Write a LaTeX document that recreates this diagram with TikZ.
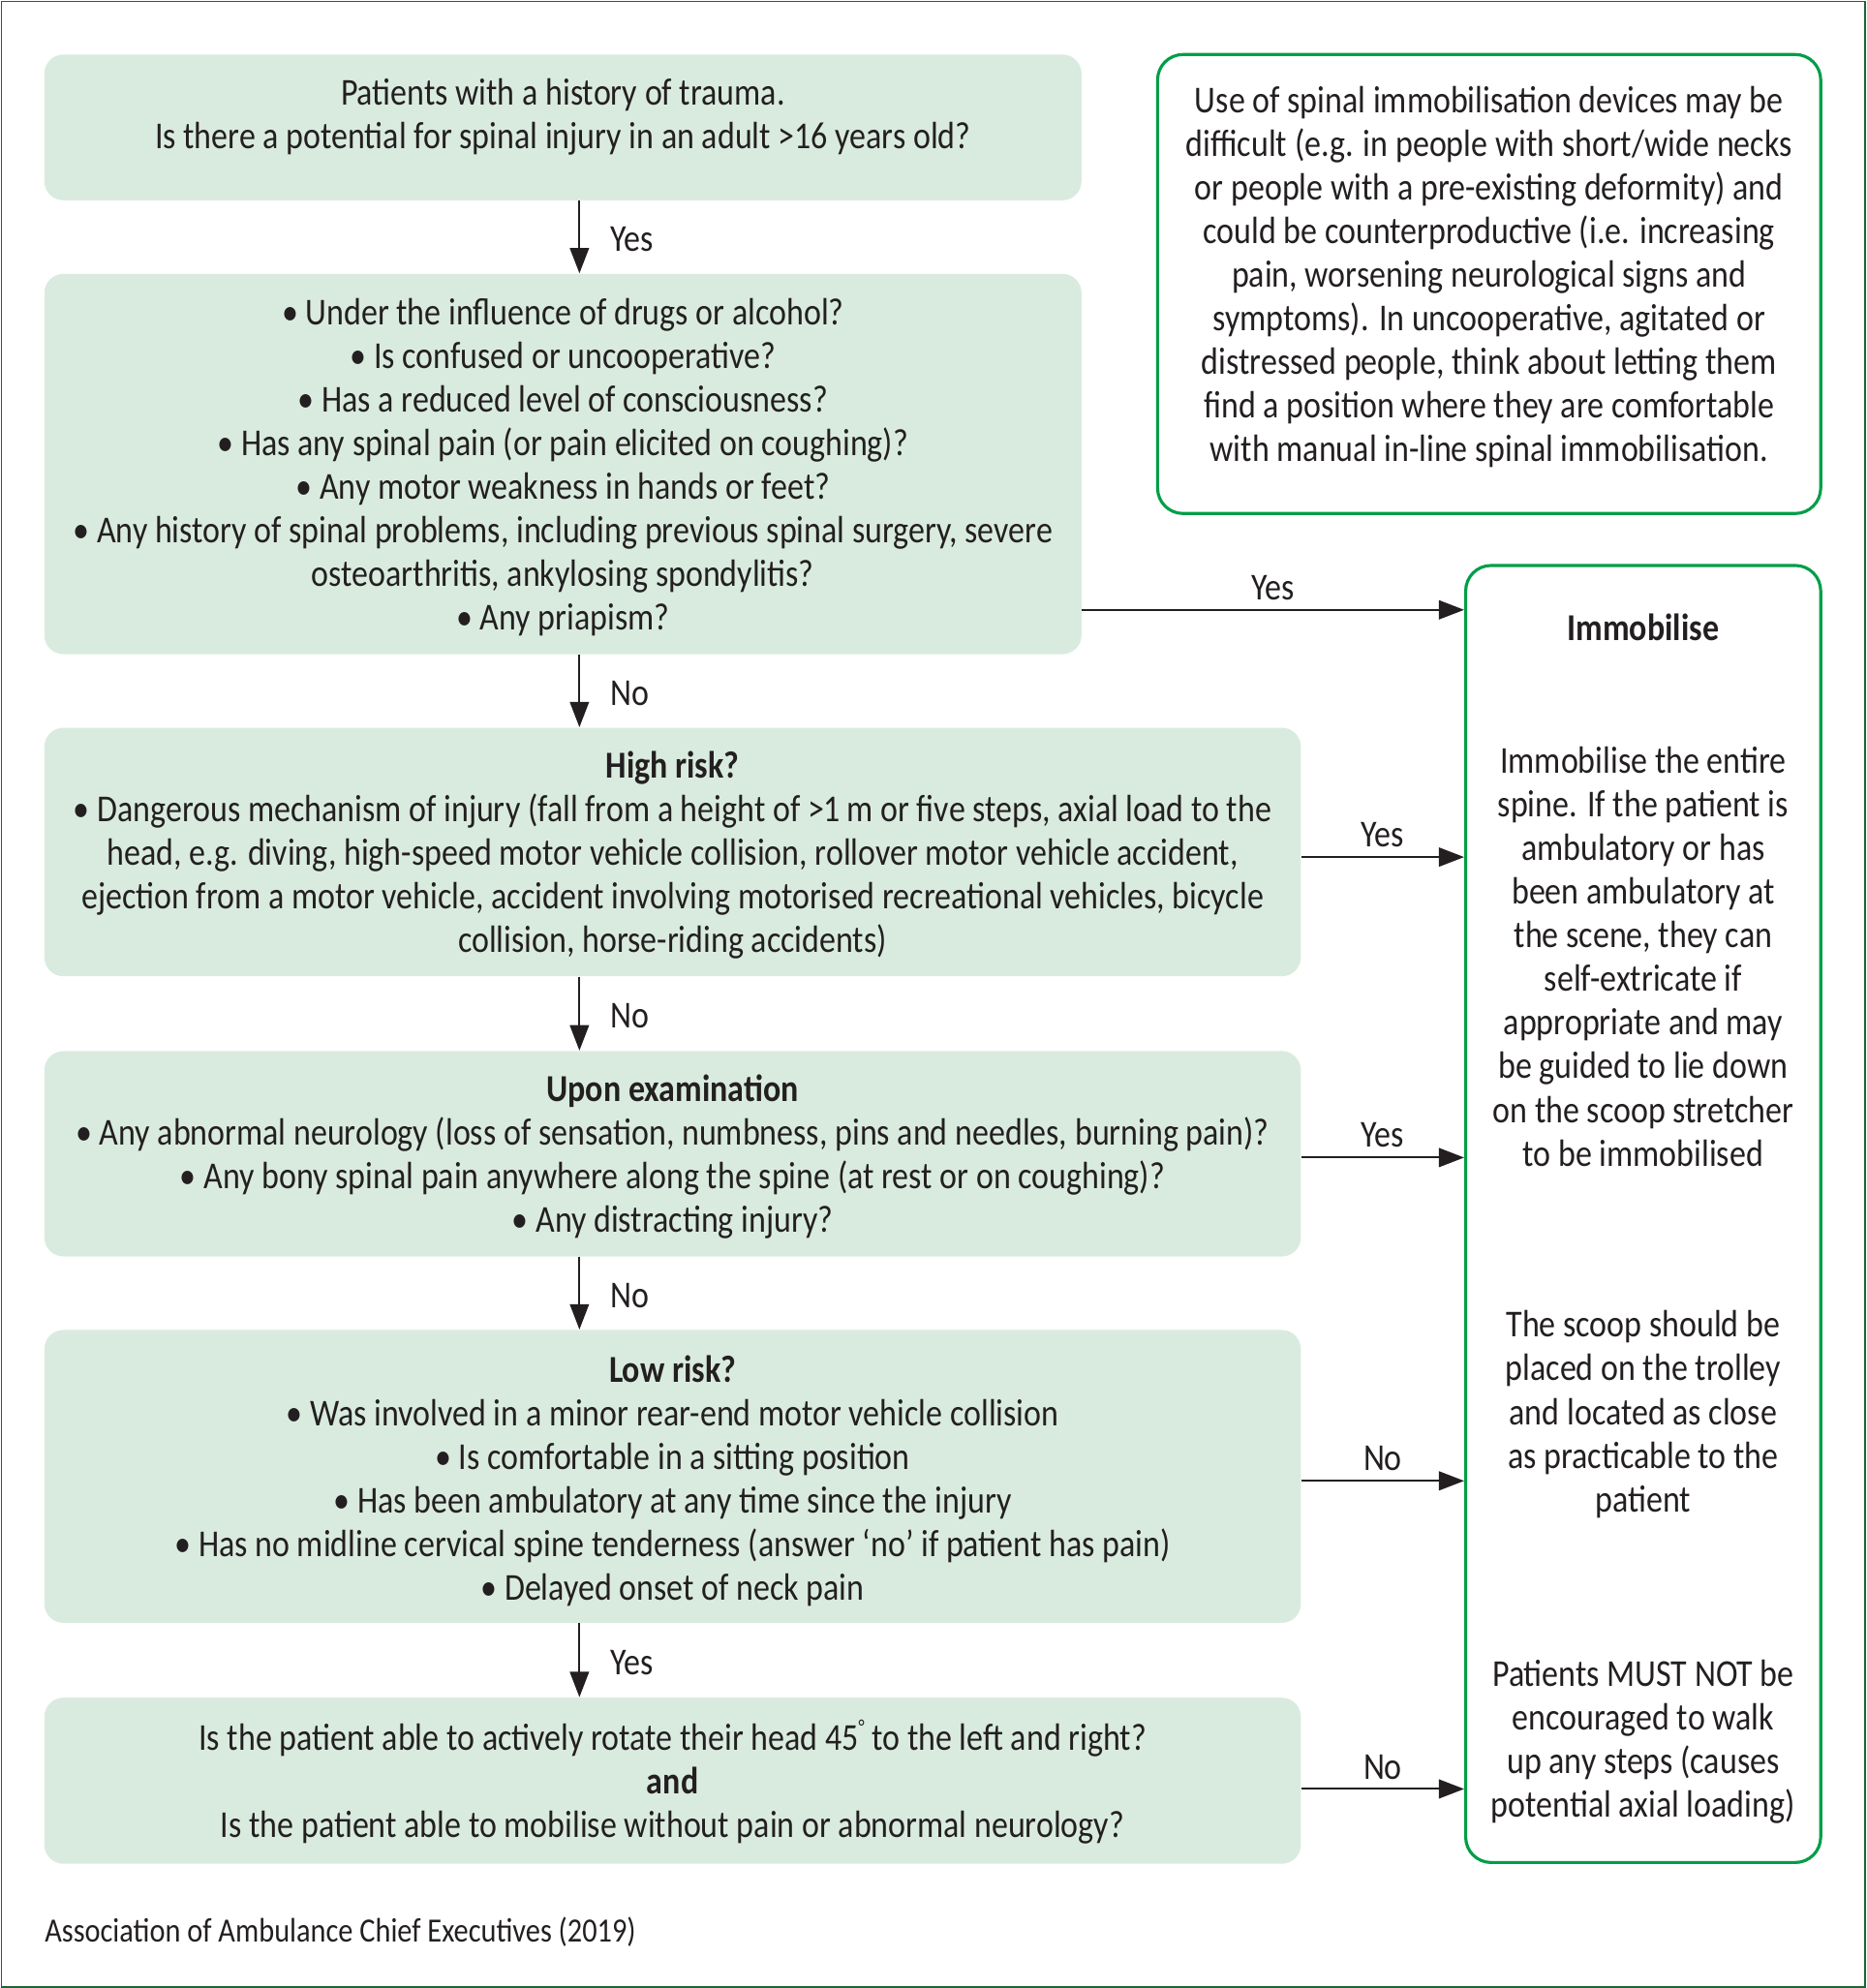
\documentclass[tikz,border=0pt]{standalone}
\usepackage{fontspec}
\setmainfont{Carlito}[FakeStretch=0.865]
\usetikzlibrary{arrows.meta}
\definecolor{boxfill}{RGB}{217,235,223}
\definecolor{gborder}{RGB}{0,158,72}
\definecolor{framecol}{RGB}{30,100,50}
\definecolor{ink}{RGB}{35,31,32}
\begin{document}
\begin{tikzpicture}[x=0.5pt,y=-0.5pt,
  every node/.style={text=ink,font=\fontsize{15}{17.2}\selectfont},
  fbox/.style={fill=boxfill,rounded corners=7.5pt,inner sep=0,draw=none},
  gbox/.style={draw=gborder,line width=1.2pt,fill=white,rounded corners=10pt,inner sep=0},
  txt/.style={align=center,inner sep=0},
  arr/.style={draw=ink,line width=0.75pt,-{Triangle[length=10pt,width=7.5pt]}},
  vlab/.style={right,inner sep=0,xshift=12pt,yshift=-1pt},
  hlab/.style={above,inner sep=0,yshift=3.5pt}]
\useasboundingbox (0,0) rectangle (1472,1568);
\draw[framecol,line width=0.6pt] (1,1) rectangle (1471,1567);

% boxes
\node[fbox,minimum width=409pt,minimum height=57.5pt] (b1) at (444,100.5) {};
\node[fbox,minimum width=409pt,minimum height=150pt] (b2) at (444,366) {};
\node[fbox,minimum width=495.5pt,minimum height=98pt] (b3) at (530.5,672) {};
\node[fbox,minimum width=495.5pt,minimum height=81pt] (b4) at (530.5,910) {};
\node[fbox,minimum width=495.5pt,minimum height=115.5pt] (b5) at (530.5,1164.5) {};
\node[fbox,minimum width=495.5pt,minimum height=65.5pt] (b6) at (530.5,1404.5) {};
\node[gbox,minimum width=261.5pt,minimum height=181pt] (note) at (1174.5,224) {};
\node[gbox,minimum width=140pt,minimum height=511.5pt] (imm) at (1296,957.5) {};

% texts
\node[txt] (t1) at (444,92) {Patients with a history of trauma.\\Is there a potential for spinal injury in an adult >16 years old?};
\node[txt] (t2) at (444,368.5) {• Under the influence of drugs or alcohol?\\
• Is confused or uncooperative?\\
• Has a reduced level of consciousness?\\
• Has any spinal pain (or pain elicited on coughing)?\\
• Any motor weakness in hands or feet?\\
• Any history of spinal problems, including previous spinal surgery, severe\\
osteoarthritis, ankylosing spondylitis?\\
• Any priapism?};
\node[txt] (t3) at (530.5,674.5) {\textbf{High risk?}\\
• Dangerous mechanism of injury (fall from a height of >1\,m or five steps, axial load to the\\
head, e.g. diving, high-speed motor vehicle collision, rollover motor vehicle accident,\\
ejection from a motor vehicle, accident involving motorised recreational vehicles, bicycle\\
collision, horse-riding accidents)};
\node[txt] (t4) at (530.5,912.5) {\textbf{Upon examination}\\
• Any abnormal neurology (loss of sensation, numbness, pins and needles, burning pain)?\\
• Any bony spinal pain anywhere along the spine (at rest or on coughing)?\\
• Any distracting injury?};
\node[txt] (t5) at (530.5,1168) {\textbf{Low risk?}\\
• Was involved in a minor rear-end motor vehicle collision\\
• Is comfortable in a sitting position\\
• Has been ambulatory at any time since the injury\\
• Has no midline cervical spine tenderness (answer ‘no’ if patient has pain)\\
• Delayed onset of neck pain};
\node[txt] (t6) at (530.5,1405.5) {Is the patient able to actively rotate their head 45\raisebox{0.9ex}{\fontsize{8}{8}\selectfont °} to the left and right?\\
\textbf{and}\\
Is the patient able to mobilise without pain or abnormal neurology?};
\node[txt] (tn) at (1174.5,218.5) {Use of spinal immobilisation devices may be\\
difficult (e.g. in people with short/wide necks\\
or people with a pre-existing deformity) and\\
could be counterproductive (i.e. increasing\\
pain, worsening neurological signs and\\
symptoms). In uncooperative, agitated or\\
distressed people, think about letting them\\
find a position where they are comfortable\\
with manual in-line spinal immobilisation.};
\node[txt] (ti0) at (1296,495) {\textbf{Immobilise}};
\node[txt] (ti1) at (1296,754.5) {Immobilise the entire\\
spine. If the patient is\\
ambulatory or has\\
been ambulatory at\\
the scene, they can\\
self-extricate if\\
appropriate and may\\
be guided to lie down\\
on the scoop stretcher\\
to be immobilised};
\node[txt] (ti2) at (1296,1115.5) {The scoop should be\\
placed on the trolley\\
and located as close\\
as practicable to the\\
patient};
\node[txt] (ti3) at (1296,1373.5) {Patients MUST NOT be\\
encouraged to walk\\
up any steps (causes\\
potential axial loading)};
\node[txt,anchor=west,font=\fontsize{13.4}{16}\selectfont] (src) at (35,1524) {Association of Ambulance Chief Executives (2019)};

% connectors
\coordinate (ax) at (457,0);
\draw[arr] (b1.south -| ax) -- node[vlab] (l1) {Yes} (b2.north -| ax);
\draw[arr] (b2.south -| ax) -- node[vlab] (l2) {No} (b3.north -| ax);
\draw[arr] (b3.south -| ax) -- node[vlab] (l3) {No} (b4.north -| ax);
\draw[arr] (b4.south -| ax) -- node[vlab] (l4) {No} (b5.north -| ax);
\draw[arr] (b5.south -| ax) -- node[vlab] (l5) {Yes} (b6.north -| ax);

\coordinate (y2) at (0,481);
\coordinate (y3) at (0,676);
\coordinate (y4) at (0,913);
\coordinate (y5) at (0,1168);
\coordinate (y6) at (0,1411);
\draw[arr] (b2.east |- y2) -- node[hlab] (h2) {Yes} (imm.west |- y2);
\draw[arr] (b3.east |- y3) -- node[hlab] (h3) {Yes} (imm.west |- y3);
\draw[arr] (b4.east |- y4) -- node[hlab] (h4) {Yes} (imm.west |- y4);
\draw[arr] (b5.east |- y5) -- node[hlab] (h5) {No} (imm.west |- y5);
\draw[arr] (b6.east |- y6) -- node[hlab] (h6) {No} (imm.west |- y6);
\end{tikzpicture}
\end{document}
